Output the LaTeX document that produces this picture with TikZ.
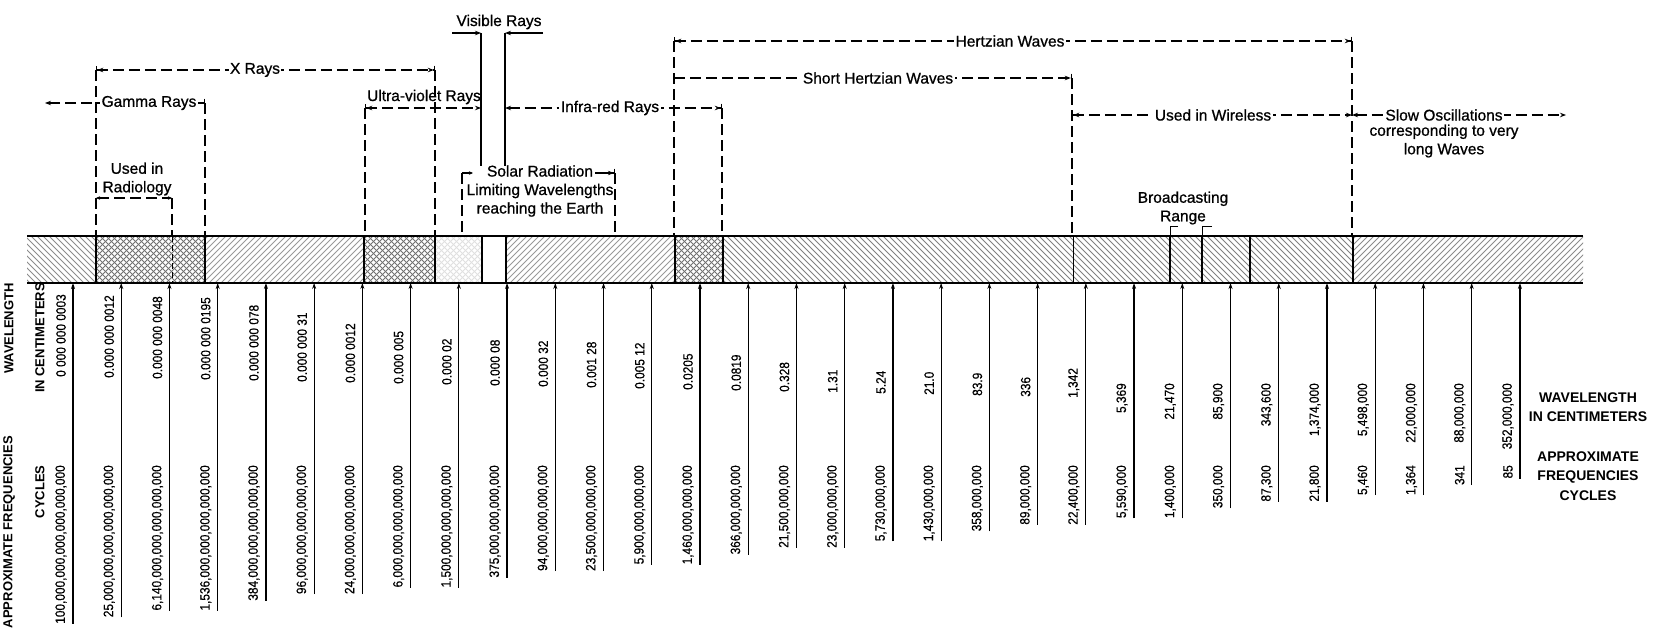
\documentclass[tikz,border=0pt]{standalone}
\usepackage{fontspec}
\setmainfont{Liberation Sans}
\newfontfamily\lblfont[RawFeature={embolden=0.8}]{Liberation Sans}
\newfontfamily\numfont[FakeStretch=0.88,RawFeature={embolden=0.4}]{Liberation Sans}
\usetikzlibrary{arrows.meta}
\newcommand\hatchNW[3]{%
  \begin{scope}
    \clip (#1,236) rectangle (#2,283);
    \pgfmathtruncatemacro\hA{#1-50}%
    \pgfmathtruncatemacro\hB{#1-44}%
    \foreach \k in {\hA,\hB,...,#2} \draw[hatchln,draw=#3] (\k,236) -- ++(47,47);
  \end{scope}}
\newcommand\hatchNE[3]{%
  \begin{scope}
    \clip (#1,236) rectangle (#2,283);
    \pgfmathtruncatemacro\hA{#1-50}%
    \pgfmathtruncatemacro\hB{#1-44}%
    \foreach \k in {\hA,\hB,...,#2} \draw[hatchln,draw=#3] (\k,283) -- ++(47,-47);
  \end{scope}}
\begin{document}
\begin{tikzpicture}[x=1pt,y=-1pt,
  dl/.style={line width=1.2pt,dash pattern=on 11pt off 5pt},
  sl/.style={line width=1.4pt},
  lbl/.style={font=\lblfont\fontsize{15.5}{18.5}\selectfont,inner sep=1.5pt,align=center},
  wlbl/.style={lbl,fill=white},
  num/.style={font=\numfont\fontsize{13.5}{14}\selectfont,rotate=90,inner sep=0pt},
  side/.style={font=\bfseries\fontsize{13}{14}\selectfont,rotate=90,inner sep=0pt},
  rside/.style={font=\bfseries\fontsize{14}{19.5}\selectfont,align=center,inner sep=0pt},
  hatchln/.style={line width=0.75pt},
  divider/.style={line width=1.6pt},
  band/.style={line width=2.3pt},
  tickln/.style={line width=1.2pt,-{Stealth[length=6pt,width=4pt]}},
  tBB/.style={arrows={Bar[width=9pt]Stealth[length=6pt,width=4.5pt]-Stealth[length=6pt,width=4.5pt]Bar[width=9pt]}},
  tBS/.style={arrows={Bar[width=9pt]Stealth[length=6pt,width=4.5pt]-Stealth[length=6pt,width=4.5pt]}},
  tSB/.style={arrows={Stealth[length=6pt,width=4.5pt]-Stealth[length=6pt,width=4.5pt]Bar[width=9pt]}},
  tSS/.style={arrows={Stealth[length=6pt,width=4.5pt]-Stealth[length=6pt,width=4.5pt]}},
  tBarS/.style={arrows={Bar[width=9pt]-Stealth[length=6pt,width=4.5pt]}},
  tEndS/.style={arrows={-Stealth[length=6pt,width=4.5pt]}},
  tEndSB/.style={arrows={-Stealth[length=6pt,width=4.5pt]Bar[width=9pt]}},
  tSmall/.style={arrows={Stealth[length=4pt,width=3.5pt]-Stealth[length=4pt,width=3.5pt]}},
]
\fill[white] (0,0) rectangle (1667,635);
\useasboundingbox (0,0) rectangle (1667,635);

% ---------------- band ----------------
\hatchNW{27}{96}{black!45}
\hatchNW{96}{205}{black!55}\hatchNE{96}{205}{black!55}
\hatchNE{205}{364}{black!40}
\hatchNW{364}{435}{black!55}\hatchNE{364}{435}{black!55}
\hatchNW{435}{482}{black!12}\hatchNE{435}{482}{black!12}
\hatchNE{506}{675}{black!40}
\hatchNW{675}{723}{black!55}\hatchNE{675}{723}{black!55}
\hatchNW{723}{1353}{black!50}
\hatchNE{1353}{1583}{black!45}

\coordinate (bTL) at (27,236); \coordinate (bTR) at (1583,236);
\coordinate (bBL) at (27,283); \coordinate (bBR) at (1583,283);
\draw[band] (bTL) -- (bTR);
\draw[band] (bBL) -- (bBR);
\foreach \d in {96,205,364,435,482,506,675,723,1170,1202,1250,1353}
  \draw[divider] (\d,236) -- (\d,283);
\draw[line width=0.8pt] (1073,236) -- (1073,283);
\draw[line width=0.9pt,dash pattern=on 6pt off 3pt] (172,236) -- (172,283);

% ---------------- upper annotations ----------------
% X rays
\coordinate (xL) at (96,70); \coordinate (xR) at (435,70);
\coordinate (xLb) at (96,236); \coordinate (xRb) at (435,236);
\draw[dl,tBB] (xL) -- (xR);
\draw[dl] (xL) -- (xLb);
\draw[dl] (xR) -- (xRb);
\node[wlbl] (xrays) at (255,70) {X Rays};

% Gamma rays
\coordinate (gR) at (205,103); \coordinate (gL) at (45,103);
\coordinate (gRb) at (205,236);
\draw[dl,tBarS] (gR) -- (gL);
\draw[dl] (gR) -- (gRb);
\node[wlbl] (gamma) at (149,103) {Gamma Rays};

% Radiology
\node[lbl] (radio) at (137,179) {Used in\\Radiology};
\coordinate (rL) at (96,198); \coordinate (rR) at (172,198);
\coordinate (rRb) at (172,236);
\draw[dl,tSmall] (rL) -- (rR);
\draw[dl] (rR) -- (rRb);

% Ultra-violet
\coordinate (uL) at (365,108); \coordinate (uR) at (481,108);
\coordinate (uLb) at (365,236);
\draw[dl,tBS] (uL) -- (uR);
\draw[dl] (uL) -- (uLb);
\node[lbl] (uv) at (424,97) {Ultra-violet Rays};

% Visible
\node[lbl] (vis) at (499,22) {Visible Rays};
\coordinate (vA) at (452,33); \coordinate (vL) at (481,33);
\coordinate (vB) at (543,33); \coordinate (vR) at (505,33);
\coordinate (vLb) at (481,166); \coordinate (vRb) at (505,166);
\draw[sl,tEndS] (vA) -- (vL);
\draw[sl,tEndS] (vB) -- (vR);
\draw[sl] (vL) -- (vLb);
\draw[sl] (vR) -- (vRb);

% Infra-red
\coordinate (iL) at (505,108); \coordinate (iR) at (722,108);
\coordinate (iRb) at (722,236);
\draw[dl,tSB] (iL) -- (iR);
\draw[dl] (iR) -- (iRb);
\node[wlbl] (infra) at (610,108) {Infra-red Rays};

% Solar radiation
\node[lbl] (solar) at (540,191) {Solar Radiation\\Limiting Wavelengths\\reaching the Earth};
\coordinate (sL) at (462,173); \coordinate (sLa) at (473,173);
\coordinate (sR) at (615,173); \coordinate (sRa) at (595,173);
\coordinate (sLb) at (462,236); \coordinate (sRb) at (615,236);
\draw[line width=1.1pt,arrows={-Stealth[length=4pt,width=3.5pt]}] (sL) -- (sLa);
\draw[line width=1.1pt,tEndSB] (sRa) -- (sR);
\draw[dl] (sL) -- (sLb);
\draw[dl] (sR) -- (sRb);

% Hertzian
\coordinate (hL) at (674,41); \coordinate (hR) at (1352,41);
\coordinate (hLb) at (674,236); \coordinate (hRb) at (1352,236);
\draw[dl,tBB] (hL) -- (hR);
\draw[dl] (hL) -- (hLb);
\draw[dl] (hR) -- (hRb);
\node[wlbl] (hertz) at (1010,41) {Hertzian Waves};

% Short Hertzian
\coordinate (shL) at (674,78); \coordinate (shR) at (1072,78);
\coordinate (shRb) at (1072,236);
\draw[dl,tEndSB] (shL) -- (shR);
\draw[dl] (shR) -- (shRb);
\node[wlbl] (short) at (878,78) {Short Hertzian Waves};

% Wireless
\coordinate (wiL) at (1072,115); \coordinate (wiR) at (1352,115);
\draw[dl,tBS] (wiL) -- (wiR);
\node[wlbl] (wireless) at (1213,115) {Used in Wireless};

% Slow oscillations
\coordinate (soL) at (1352,115); \coordinate (soR) at (1566,115);
\draw[dl,tSS] (soL) -- (soR);
\node[wlbl] (slow) at (1444,115) {Slow Oscillations};
\node[lbl] (slow2) at (1444,141) {corresponding to very\\long Waves};

% Broadcasting
\node[lbl] (broad) at (1183,208) {Broadcasting\\Range};
\coordinate (brA) at (1178,226); \coordinate (brL) at (1170,236);
\coordinate (brB) at (1212,226); \coordinate (brR) at (1202,236);
\draw[line width=1pt] (brA) -| (brL);
\draw[line width=1pt] (brB) -| (brR);

% ---------------- scale ticks and numbers ----------------
\foreach \w/\f [count=\i from 0] in {
 {0 000 000 0003}/{100,000,000,000,000,000,000},
 {0.000 000 0012}/{25,000,000,000,000,000,000},
 {0.000 000 0048}/{6,140,000,000,000,000,000},
 {0.000 000 0195}/{1,536,000,000,000,000,000},
 {0.000 000 078}/{384,000,000,000,000,000},
 {0.000 000 31}/{96,000,000,000,000,000},
 {0.000 0012}/{24,000,000,000,000,000},
 {0.000 005}/{6,000,000,000,000,000},
 {0.000 02}/{1,500,000,000,000,000},
 {0.000 08}/{375,000,000,000,000},
 {0.000 32}/{94,000,000,000,000},
 {0.001 28}/{23,500,000,000,000},
 {0.005 12}/{5,900,000,000,000},
 {0.0205}/{1,460,000,000,000},
 {0.0819}/{366,000,000,000},
 {0.328}/{21,500,000,000},
 {1.31}/{23,000,000,000},
 {5.24}/{5,730,000,000},
 {21.0}/{1,430,000,000},
 {83.9}/{358,000,000},
 {336}/{89,000,000},
 {1,342}/{22,400,000},
 {5,369}/{5,590,000},
 {21,470}/{1,400,000},
 {85,900}/{350,000},
 {343,600}/{87,300},
 {1,374,000}/{21,800},
 {5,498,000}/{5,460},
 {22,000,000}/{1,364},
 {88,000,000}/{341},
 {352,000,000}/{85}}
{
  \pgfmathsetmacro\xx{73+48.23*\i}
  \coordinate (t\i) at (\xx,283);
  \node[num,anchor=east] (f\i) at (\xx-12,465) {\f};
  \ifnum\i<22
    \node[num,anchor=west] (w\i) at (\xx-12,377+\i) {\w};
  \else
    \node[num,anchor=east] (w\i) at (\xx-12,383) {\w};
  \fi
  \draw[tickln] (f\i.west -| t\i) -- (t\i);
}

% ---------------- side captions ----------------
\node[side,anchor=east] (apL) at (9,436) {APPROXIMATE FREQUENCIES};
\node[side,anchor=east] (wlL) at (9,283) {WAVELENGTH};
\node[side] (cyL) at (40,492) {CYCLES};
\node[side,anchor=east] (icL) at (40,283) {IN CENTIMETERS};
\node[rside] (wlR) at (1588,407) {WAVELENGTH\\IN CENTIMETERS};
\node[rside] (apR) at (1588,476) {APPROXIMATE\\FREQUENCIES\\CYCLES};
\end{tikzpicture}
\end{document}
